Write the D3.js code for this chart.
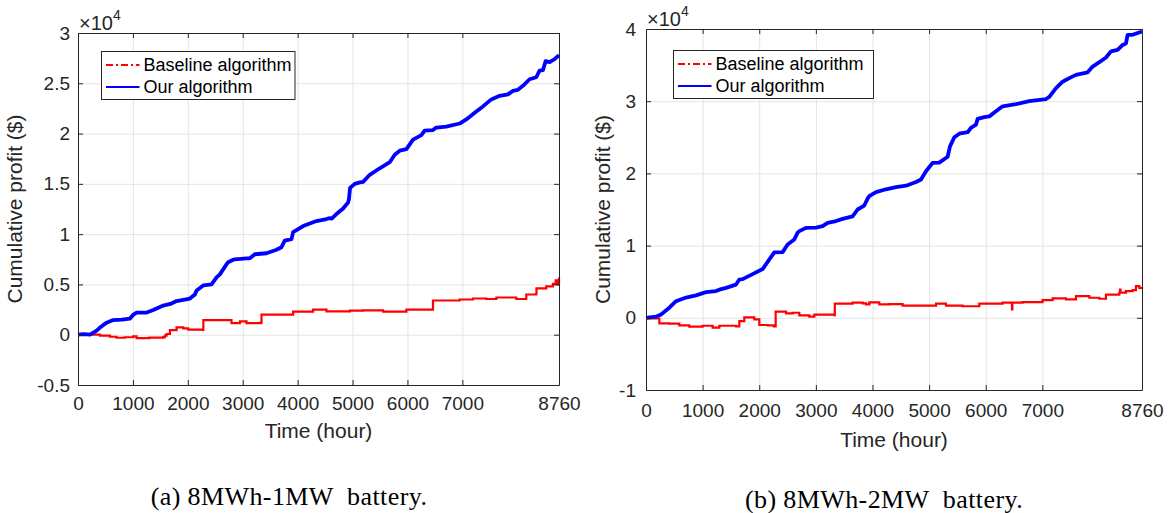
<!DOCTYPE html>
<html>
<head>
<meta charset="utf-8">
<script src="https://cdn.jsdelivr.net/npm/d3@7"></script>
<style>
  body { margin: 0; background: #fff; }
  text { font-family: "Liberation Sans", Arial, Helvetica, sans-serif; }
</style>
</head>
<body>
<div id="chart"></div>
<script>
// hours on the x axis, profit values in units of 10^4 $
var xTicks = [0, 1000, 2000, 3000, 4000, 5000, 6000, 7000, 8760];
var yTicksA = [-0.5, 0, 0.5, 1, 1.5, 2, 2.5, 3];
var yTicksB = [-1, 0, 1, 2, 3, 4];
var seriesNames = ["Baseline algorithm", "Our algorithm"];
var captions = ["(a) 8MWh-1MW  battery.", "(b) 8MWh-2MW  battery."];

// (a) 8MWh-1MW
var oursA = [[0,0],[100,0.005],[218,0.0],[280,0.02],[340,0.04],[420,0.08],[520,0.12],[640,0.146],[800,0.15],[945,0.16],
  [1010,0.2],[1067,0.22],[1250,0.22],[1370,0.245],[1553,0.29],[1700,0.31],[1796,0.335],[2038,0.36],[2129,0.40],[2160,0.44],
  [2281,0.49],[2432,0.50],[2523,0.57],[2584,0.60],[2644,0.65],[2705,0.70],[2735,0.72],[2826,0.745],[2857,0.75],[3069,0.76],
  [3130,0.76],[3221,0.80],[3433,0.81],[3615,0.845],[3706,0.87],[3766,0.935],[3888,0.95],[3918,1.02],[4100,1.08],[4343,1.13],
  [4525,1.15],[4585,1.16],[4620,1.155],[4707,1.20],[4828,1.255],[4919,1.315],[4935,1.35],[4955,1.46],[5040,1.50],[5131,1.515],
  [5192,1.52],[5313,1.59],[5495,1.655],[5677,1.715],[5768,1.79],[5859,1.83],[5981,1.845],[6102,1.94],[6254,1.985],[6313,2.03],
  [6465,2.035],[6526,2.06],[6708,2.07],[6951,2.10],[7072,2.14],[7254,2.22],[7375,2.27],[7527,2.34],[7678,2.375],[7830,2.39],
  [7921,2.425],[8012,2.435],[8103,2.475],[8224,2.54],[8346,2.56],[8406,2.625],[8467,2.63],[8516,2.72],[8589,2.71],[8680,2.74],[8760,2.78]];
var baseA = [[0,0],[300,0],[400,-0.01],[582,-0.02],[703,-0.03],[850,-0.025],[1006,-0.016],[1067,-0.033],[1300,-0.028],[1553,-0.023],
  [1583,-0.01],[1614,0.007],[1674,0.045],[1795,0.073],[1916,0.063],[2007,0.05],[2270,0.047],[2283,0.145],[2584,0.146],[2796,0.116],
  [2948,0.133],[3069,0.116],[3330,0.12],[3342,0.2],[3858,0.2],[3918,0.23],[4282,0.25],[4525,0.232],[4949,0.24],[5192,0.243],
  [5556,0.23],[5981,0.25],[6405,0.25],[6465,0.34],[6769,0.34],[6951,0.35],[7193,0.36],[7436,0.355],[7618,0.37],[7982,0.355],
  [8164,0.40],[8346,0.41],[8350,0.46],[8528,0.48],[8649,0.505],[8700,0.54],[8730,0.5],[8760,0.57]];

// (b) 8MWh-2MW
var oursB = [[0,0],[177,0.015],[265,0.047],[412,0.14],[530,0.23],[707,0.28],[883,0.31],[1060,0.355],[1236,0.37],[1295,0.39],
  [1413,0.415],[1590,0.46],[1648,0.53],[1707,0.535],[1883,0.605],[2060,0.675],[2178,0.81],[2266,0.905],[2413,0.91],[2501,1.015],
  [2619,1.085],[2678,1.18],[2708,1.20],[2826,1.245],[3002,1.25],[3119,1.27],[3208,1.315],[3356,1.34],[3473,1.37],[3649,1.405],
  [3737,1.50],[3855,1.555],[3914,1.65],[3944,1.685],[4062,1.74],[4239,1.78],[4415,1.81],[4592,1.83],[4769,1.88],[4857,1.915],
  [4945,2.03],[5062,2.145],[5180,2.15],[5327,2.23],[5369,2.375],[5445,2.5],[5533,2.55],[5680,2.57],[5739,2.63],[5828,2.675],
  [5857,2.755],[5975,2.78],[6063,2.79],[6181,2.86],[6298,2.93],[6535,2.96],[6770,3.0],[7065,3.03],[7123,3.06],[7241,3.18],
  [7358,3.27],[7476,3.32],[7594,3.365],[7800,3.40],[7888,3.48],[8006,3.54],[8124,3.605],[8212,3.69],[8329,3.71],[8418,3.78],
  [8477,3.80],[8506,3.92],[8594,3.92],[8683,3.945],[8760,3.965]];
var baseB = [[0,-0.01],[147,-0.01],[235,-0.077],[412,-0.08],[588,-0.105],[765,-0.123],[1000,-0.11],[1177,-0.137],[1295,-0.11],
  [1530,-0.11],[1590,-0.12],[1648,-0.045],[1736,0.005],[1913,-0.022],[2001,-0.1],[2148,-0.105],[2260,-0.12],[2290,0.085],
  [2473,0.06],[2590,0.07],[2708,0.033],[2884,0.015],[2973,0.045],[3326,0.035],[3335,0.195],[3649,0.21],[3826,0.2],[3885,0.185],
  [3944,0.215],[4120,0.185],[4297,0.19],[4532,0.17],[4769,0.17],[5122,0.197],[5298,0.17],[5592,0.16],[5887,0.197],[6298,0.21],
  [6460,0.21],[6464,0.116],[6470,0.21],[6651,0.217],[7004,0.245],[7181,0.27],[7417,0.255],[7594,0.30],[7829,0.278],[8006,0.264],
  [8124,0.32],[8359,0.347],[8371,0.39],[8380,0.35],[8477,0.37],[8594,0.383],[8653,0.44],[8712,0.415],[8760,0.40]];

var ink = "#262626";
var svg = d3.select("#chart").append("svg")
    .attr("width", 1168)
    .attr("height", 513)
    .style("background", "#fff");

function drawPanel(p) {
    var x = d3.scaleLinear().domain([0, 8760]).range([p.left, p.right]);
    var y = d3.scaleLinear().domain(p.yDomain).range([p.bottom, p.top]);
    var h = p.bottom - p.top, w = p.right - p.left;
    var g = svg.append("g");

    // grid
    g.append("g").attr("transform", "translate(0," + p.bottom + ")")
        .call(d3.axisBottom(x).tickValues(xTicks).tickSize(-h).tickFormat(""))
        .call(a => { a.select(".domain").remove(); a.selectAll("line").attr("stroke", "#e4e4e4"); });
    g.append("g").attr("transform", "translate(" + p.left + ",0)")
        .call(d3.axisLeft(y).tickValues(p.yTicks).tickSize(-w).tickFormat(""))
        .call(a => { a.select(".domain").remove(); a.selectAll("line").attr("stroke", "#e4e4e4"); });

    // series
    g.append("path").datum(p.base)
        .attr("fill", "none").attr("stroke", "#ff0000").attr("stroke-width", 2.2)
        .attr("d", d3.line().curve(d3.curveStepAfter).x(d => x(d[0])).y(d => y(d[1])));
    g.append("path").datum(p.ours)
        .attr("fill", "none").attr("stroke", "#0000ff").attr("stroke-width", 3.8)
        .attr("stroke-linejoin", "round")
        .attr("d", d3.line().x(d => x(d[0])).y(d => y(d[1])));

    // box axes, ticks inside
    function style(a) {
        a.selectAll("path,line").attr("stroke", ink);
        a.selectAll("text").attr("fill", ink).style("font-size", "19px");
    }
    g.append("g").attr("transform", "translate(0," + p.bottom + ")")
        .call(d3.axisBottom(x).tickValues(xTicks).tickSizeInner(-5).tickSizeOuter(0).tickPadding(p.xPad).tickFormat(d => d))
        .call(style);
    g.append("g").attr("transform", "translate(0," + p.top + ")")
        .call(d3.axisTop(x).tickValues(xTicks).tickSizeInner(-5).tickSizeOuter(0).tickFormat(""))
        .call(style);
    g.append("g").attr("transform", "translate(" + p.left + ",0)")
        .call(d3.axisLeft(y).tickValues(p.yTicks).tickSizeInner(-5).tickSizeOuter(0).tickPadding(p.yPad).tickFormat(d => String(d)))
        .call(style);
    g.append("g").attr("transform", "translate(" + p.right + ",0)")
        .call(d3.axisRight(y).tickValues(p.yTicks).tickSizeInner(-5).tickSizeOuter(0).tickFormat(""))
        .call(style);

    // exponent
    var ex = g.append("text").attr("x", p.left + 1).attr("y", p.top - 3).attr("fill", ink).style("font-size", "20px");
    ex.append("tspan").text("\u00d710");
    ex.append("tspan").attr("dy", -10).style("font-size", "14px").text("4");

    // axis labels
    g.append("text").attr("x", (p.left + p.right) / 2).attr("y", p.xLabelY)
        .attr("text-anchor", "middle").attr("fill", ink).style("font-size", "21px")
        .text("Time (hour)");
    g.append("text")
        .attr("transform", "translate(" + p.yLabelX + "," + ((p.top + p.bottom) / 2) + ") rotate(-90)")
        .attr("text-anchor", "middle").attr("fill", ink).style("font-size", "21px")
        .text("Cumulative profit ($)");

    // legend
    var lg = g.append("g").attr("transform", "translate(" + p.legX + "," + p.legY + ")");
    lg.append("rect").attr("width", p.legW).attr("height", 48)
        .attr("fill", "#fff").attr("stroke", ink).attr("stroke-width", 1);
    var rows = [{ c: "#ff0000", dash: "7,3,2,3", w: 2 }, { c: "#0000ff", dash: null, w: 2 }];
    rows.forEach((r, i) => {
        var yy = 13.5 + i * 22;
        lg.append("line").attr("x1", 4.5).attr("x2", 38).attr("y1", yy).attr("y2", yy)
            .attr("stroke", r.c).attr("stroke-width", r.w).attr("stroke-dasharray", r.dash);
        lg.append("text").attr("x", 42).attr("y", yy).attr("dy", "0.35em")
            .attr("fill", "#000").style("font-size", "18px").text(seriesNames[i]);
    });

    // caption
    svg.append("text").attr("x", p.capX).attr("y", p.capY).attr("text-anchor", "middle")
        .attr("fill", "#000").attr("xml:space", "preserve").style("white-space", "pre")
        .style("font-family", "'Liberation Serif', 'Times New Roman', serif").style("font-size", "26px")
        .style("letter-spacing", "0.4px")
        .text(p.caption);
}

drawPanel({ left: 78, right: 559, top: 33, bottom: 385, yDomain: [-0.5, 3], yTicks: yTicksA,
    ours: oursA, base: baseA, xPad: 12, yPad: 8, xLabelY: 438, yLabelX: 22,
    legX: 101.5, legY: 51.5, legW: 193.5, capX: 289, capY: 505, caption: captions[0] });
drawPanel({ left: 646, right: 1142, top: 29, bottom: 390, yDomain: [-1, 4], yTicks: yTicksB,
    ours: oursB, base: baseB, xPad: 13.5, yPad: 10, xLabelY: 447, yLabelX: 610,
    legX: 673.5, legY: 50.5, legW: 200, capX: 884, capY: 508, caption: captions[1] });
</script>
</body>
</html>
